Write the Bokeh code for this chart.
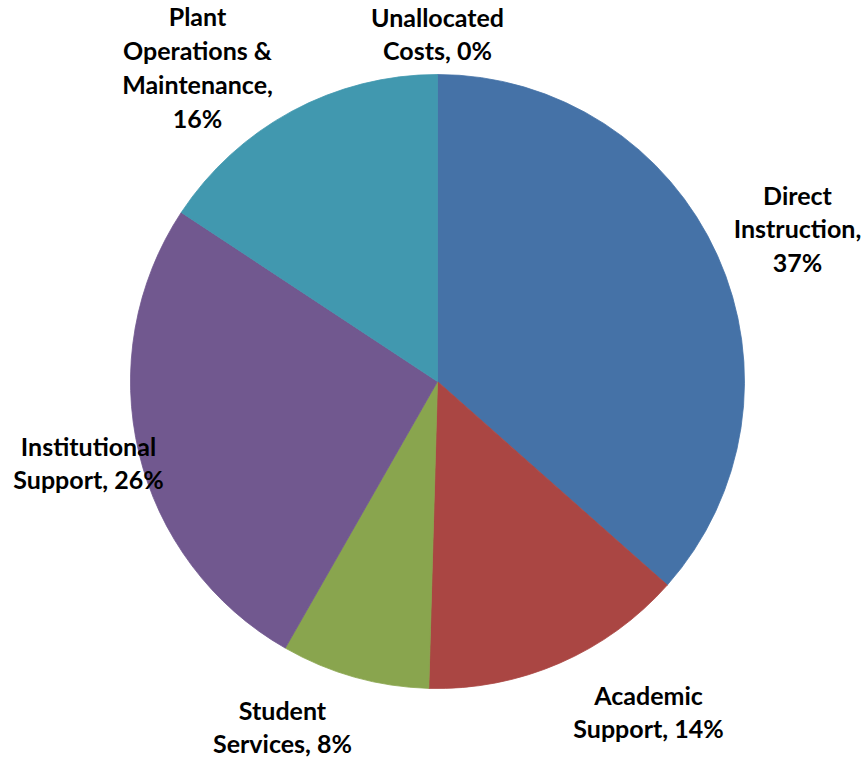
import math
from bokeh.plotting import figure
from bokeh.models import ColumnDataSource, Range1d
from bokeh.embed import file_html
from bokeh.resources import INLINE
from bokeh.core.properties import value

categories = ["Direct Instruction", "Academic Support", "Student Services",
              "Institutional Support", "Plant Operations & Maintenance", "Unallocated Costs"]
shares = [36.5, 13.9, 7.8, 26.0, 15.7, 0.0]
pct_labels = ["37%", "14%", "8%", "26%", "16%", "0%"]
label_texts = ["Direct\nInstruction,\n37%", "Academic\nSupport, 14%", "Student\nServices, 8%",
               "Institutional\nSupport, 26%", "Plant\nOperations &\nMaintenance,\n16%",
               "Unallocated\nCosts, 0%"]
colors = ["#4572A7", "#AA4643", "#89A54E", "#71588F", "#4198AF", "#DB843D"]

W, H = 862, 758
cx, cy, r = 437, -381, 307

total = sum(shares)
data = dict(cat=[], start=[], end=[], color=[])
cum = 0.0
for c, s, col in zip(categories, shares, colors):
    if s > 0:
        data["cat"].append(c)
        data["start"].append(math.pi / 2 - 2 * math.pi * (cum + s) / total)
        data["end"].append(math.pi / 2 - 2 * math.pi * cum / total)
        data["color"].append(col)
    cum += s

src = ColumnDataSource(data)

p = figure(width=W, height=H, output_backend="svg", toolbar_location=None,
           x_range=Range1d(0, W), y_range=Range1d(-H, 0),
           min_border=0)
p.axis.visible = False
p.grid.visible = False
p.outline_line_color = None
p.background_fill_color = "white"

p.wedge(x=cx, y=cy, radius=r, start_angle="start", end_angle="end",
        fill_color="color", line_color="color", line_width=0.8, source=src)

lx = [797, 648, 282, 88, 197, 437]
ly = [-228, -711, -726, -462, -66.5, -33]
lsrc = ColumnDataSource(dict(x=lx, y=ly, t=label_texts))
p.text(x="x", y="y", text="t", source=lsrc, text_font=value("Lato"),
       text_font_style="bold", text_font_size="25px", text_align="center",
       text_baseline="middle", text_line_height=1.13, text_color="black")

open("out.html", "w").write(file_html(p, INLINE))
